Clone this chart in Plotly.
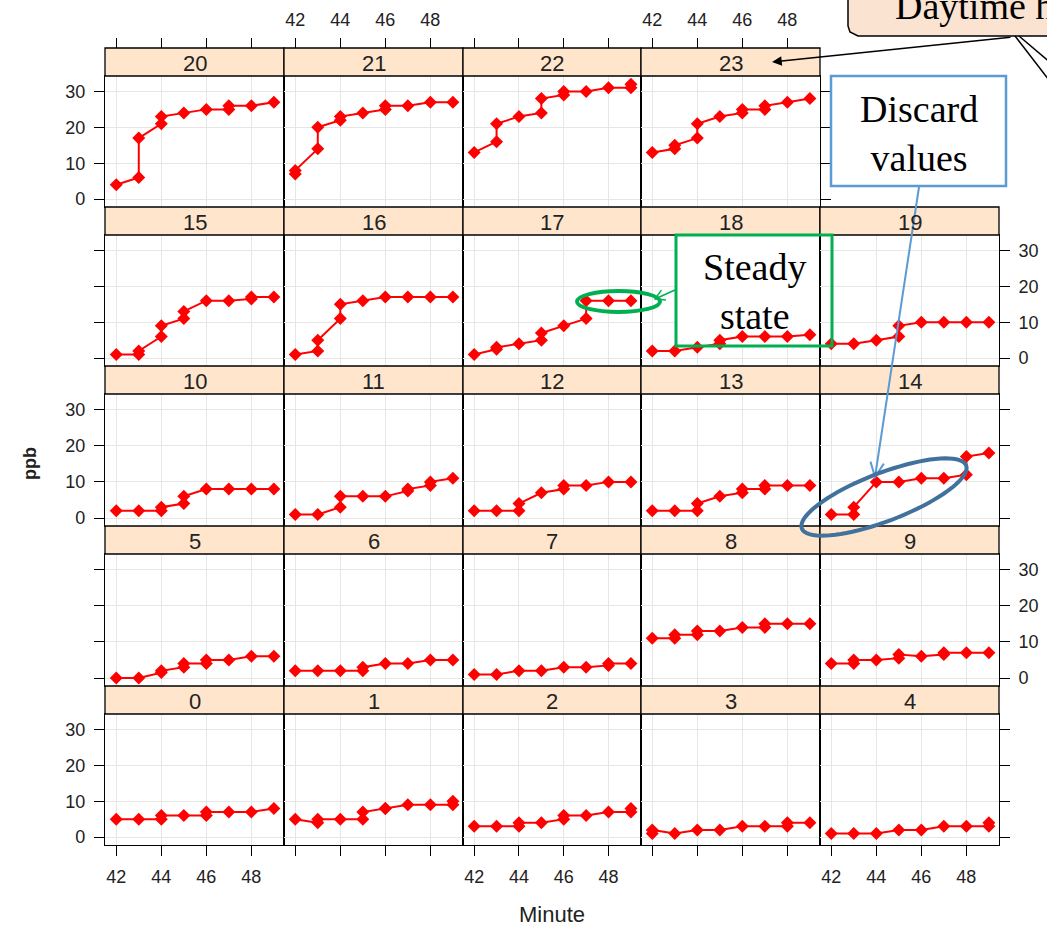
import numpy as np
import plotly.graph_objects as go

# ---------------------------------------------------------------------------
# Readings per hour of the day: minute of the hour and concentration (ppb).
# Repeated minutes are successive readings taken within the same minute.
# ---------------------------------------------------------------------------
h00_minute = [42, 43, 44, 44, 45, 46, 46, 47, 48, 49]
h00_ppb = [5, 5, 5, 6, 6, 6, 7, 7, 7, 8]
h01_minute = [42, 43, 43, 44, 45, 45, 46, 46, 47, 48, 49, 49]
h01_ppb = [5, 4, 5, 5, 5, 7, 8, 8, 9, 9, 9, 10]
h02_minute = [42, 43, 44, 44, 45, 46, 46, 47, 48, 49, 49]
h02_ppb = [3, 3, 3, 4, 4, 5, 6, 6, 7, 7, 8]
h03_minute = [42, 42, 43, 44, 45, 46, 47, 48, 48, 49]
h03_ppb = [1, 2, 1, 2, 2, 3, 3, 3, 4, 4]
h04_minute = [42, 43, 44, 45, 46, 47, 48, 49, 49]
h04_ppb = [1, 1, 1, 2, 2, 3, 3, 3, 4]
h05_minute = [42, 43, 44, 44, 45, 45, 46, 46, 47, 48, 49]
h05_ppb = [0, 0, 1.5, 2, 3, 4, 4, 5, 5, 6, 6]
h06_minute = [42, 43, 44, 45, 45, 46, 47, 48, 49]
h06_ppb = [2, 2, 2, 2, 3, 4, 4, 5, 5]
h07_minute = [42, 43, 44, 45, 46, 47, 48, 48, 49]
h07_ppb = [1, 1, 2, 2, 3, 3, 3.5, 4, 4]
h08_minute = [42, 43, 43, 44, 44, 45, 46, 47, 47, 48, 49]
h08_ppb = [11, 11, 12, 12, 13, 13, 14, 14, 15, 15, 15]
h09_minute = [42, 43, 43, 44, 45, 45, 46, 47, 47, 48, 49]
h09_ppb = [4, 4, 5, 5, 5.5, 6.5, 6, 6.5, 7, 7, 7]
h10_minute = [42, 43, 44, 44, 45, 45, 46, 47, 48, 49]
h10_ppb = [2, 2, 2, 3, 4, 6, 8, 8, 8, 8]
h11_minute = [42, 43, 44, 44, 45, 46, 47, 47, 48, 48, 49]
h11_ppb = [1, 1, 3, 6, 6, 6, 7.5, 8, 9, 10, 11]
h12_minute = [42, 43, 44, 44, 45, 46, 46, 47, 48, 49]
h12_ppb = [2, 2, 2, 4, 7, 8, 9, 9, 10, 10]
h13_minute = [42, 43, 44, 44, 45, 46, 46, 47, 47, 48, 49]
h13_ppb = [2, 2, 2, 4, 6, 7, 8, 8, 9, 9, 9]
h14_minute = [42, 43, 43, 44, 45, 46, 47, 48, 48, 49]
h14_ppb = [1, 1, 3, 10, 10, 11, 11, 12, 17, 18]
h15_minute = [42, 43, 43, 44, 44, 45, 45, 46, 47, 48, 48, 49]
h15_ppb = [1, 1, 2, 6, 9, 11, 13, 16, 16, 16.5, 17, 17]
h16_minute = [42, 43, 43, 44, 44, 45, 46, 47, 48, 49]
h16_ppb = [1, 2, 5, 11, 15, 16, 17, 17, 17, 17]
h17_minute = [42, 43, 43, 44, 45, 45, 46, 47, 47, 48, 49]
h17_ppb = [1, 2.5, 3, 4, 5, 7, 9, 11, 16, 16, 16]
h18_minute = [42, 43, 44, 45, 45, 46, 47, 48, 49]
h18_ppb = [2, 2, 3, 4, 5, 6, 6, 6, 6.5]
h19_minute = [42, 43, 44, 45, 45, 46, 47, 48, 49]
h19_ppb = [4, 4, 5, 6, 9, 10, 10, 10, 10]
h20_minute = [42, 43, 43, 44, 44, 45, 46, 47, 47, 48, 49]
h20_ppb = [4, 6, 17, 21, 23, 24, 25, 25, 26, 26, 27]
h21_minute = [42, 42, 43, 43, 44, 44, 45, 46, 46, 47, 48, 49]
h21_ppb = [7, 8, 14, 20, 22, 23, 24, 25, 26, 26, 27, 27]
h22_minute = [42, 43, 43, 44, 45, 45, 46, 46, 47, 48, 49, 49]
h22_ppb = [13, 16, 21, 23, 24, 28, 29, 30, 30, 31, 31, 32]
h23_minute = [42, 43, 43, 44, 44, 45, 46, 46, 47, 47, 48, 49]
h23_ppb = [13, 14, 15, 17, 21, 23, 24, 25, 25, 26, 27, 28]

hour_series = {
    0: (h00_minute, h00_ppb), 1: (h01_minute, h01_ppb), 2: (h02_minute, h02_ppb),
    3: (h03_minute, h03_ppb), 4: (h04_minute, h04_ppb), 5: (h05_minute, h05_ppb),
    6: (h06_minute, h06_ppb), 7: (h07_minute, h07_ppb), 8: (h08_minute, h08_ppb),
    9: (h09_minute, h09_ppb), 10: (h10_minute, h10_ppb), 11: (h11_minute, h11_ppb),
    12: (h12_minute, h12_ppb), 13: (h13_minute, h13_ppb), 14: (h14_minute, h14_ppb),
    15: (h15_minute, h15_ppb), 16: (h16_minute, h16_ppb), 17: (h17_minute, h17_ppb),
    18: (h18_minute, h18_ppb), 19: (h19_minute, h19_ppb), 20: (h20_minute, h20_ppb),
    21: (h21_minute, h21_ppb), 22: (h22_minute, h22_ppb), 23: (h23_minute, h23_ppb),
}

x_ticks = [42, 44, 46, 48]
y_ticks = [0, 10, 20, 30]

# ---------------------------------------------------------------------------
# Page geometry (pixels) for the trellis grid
# ---------------------------------------------------------------------------
W, H = 1047, 929
COL_EDGES = [105, 284, 463, 641, 820, 999]
ROW_TOPS = [48, 207, 366, 526, 686, 845]   # strip tops, last = bottom of grid
STRIP_H = 28
X_RANGE = [41.5, 49.45]
Y_RANGE = [-2.2, 34.3]

SANS = "Liberation Sans, Arial, sans-serif"
SERIF = "Liberation Serif, Times New Roman, serif"
TEXT = "#222222"
STRIP_FILL = "#FFE5CC"
GRID = "#E6E6E6"
TICK_SIZE = 18


def px(x):
    return x / W


def py(y):
    return 1 - y / H


def axid(letter, i):
    return letter if i == 1 else f"{letter}{i}"


def axkey(letter, i):
    return f"{letter}axis" if i == 1 else f"{letter}axis{i}"


def panel_box(hour):
    rb, c = divmod(hour, 5)
    r = 4 - rb
    return (COL_EDGES[c], COL_EDGES[c + 1], ROW_TOPS[r] + STRIP_H, ROW_TOPS[r + 1])


def base_axis(vals, rng):
    return dict(range=rng, tickvals=vals, ticktext=[str(v) for v in vals],
                showgrid=True, gridcolor=GRID, gridwidth=1, zeroline=False,
                showline=True, mirror=True, linecolor="black", linewidth=1.3,
                ticks="", ticklen=10, tickwidth=1.2, tickcolor="black",
                showticklabels=False, ticklabelstandoff=5,
                tickfont=dict(family=SANS, size=TICK_SIZE, color=TEXT),
                fixedrange=True, automargin=False)


def tick_axis(vals, rng, labels):
    return dict(range=rng, tickvals=vals, ticktext=[str(v) for v in vals],
                showgrid=False, zeroline=False, showline=False,
                ticks="outside", ticklen=10, tickwidth=1.2, tickcolor="black",
                showticklabels=labels, ticklabelstandoff=5,
                tickfont=dict(family=SANS, size=TICK_SIZE, color=TEXT),
                fixedrange=True, automargin=False)


def label(text, x, y, size, family=SANS, color=TEXT, **kw):
    d = dict(text=text, xref="paper", yref="paper", x=px(x), y=py(y),
             xanchor="center", yanchor="middle", showarrow=False,
             font=dict(family=family, size=size, color=color))
    d.update(kw)
    return d


fig = go.Figure()
layout = {}
shapes = []
annotations = []

for hour in range(24):
    i = hour + 1
    rb, c = divmod(hour, 5)          # row from bottom, column
    left, right, panel_top, panel_bot = panel_box(hour)
    strip_top = panel_top - STRIP_H

    xa = base_axis(x_ticks, X_RANGE)
    xa.update(domain=[px(left), px(right)], anchor=axid("y", i))
    ya = base_axis(y_ticks, Y_RANGE)
    ya.update(domain=[py(panel_bot), py(panel_top)], anchor=axid("x", i))

    if rb == 0:                      # bottom row: minute ticks
        xa.update(ticks="outside", showticklabels=(c % 2 == 0))
    if c == 0:                       # left column: ppb ticks
        ya.update(ticks="outside", side="left", showticklabels=(rb % 2 == 0))
    layout[axkey("x", i)] = xa
    layout[axkey("y", i)] = ya

    minutes, ppb = hour_series[hour]
    fig.add_trace(go.Scatter(
        x=minutes, y=ppb, mode="lines+markers",
        line=dict(color="#FF0000", width=2),
        marker=dict(symbol="diamond", size=10, color="#FF0000"),
        xaxis=axid("x", i), yaxis=axid("y", i),
        showlegend=False, hoverinfo="skip"))

    # top row: minute ticks drawn above the strips
    if rb == 4:
        j = 30 + hour
        ta = tick_axis(x_ticks, X_RANGE, labels=(c % 2 == 1))
        ta.update(overlaying=axid("x", i), side="top", anchor="free",
                  position=py(strip_top))
        layout[axkey("x", j)] = ta
        fig.add_trace(go.Scatter(x=[None], y=[None], xaxis=axid("x", j),
                                 yaxis=axid("y", i), showlegend=False,
                                 hoverinfo="skip"))

    # last panel of each row: ppb ticks on the right
    if c == 4 or hour == 23:
        j = 60 + hour
        ra = tick_axis(y_ticks, Y_RANGE, labels=(rb % 2 == 1))
        ra.update(overlaying=axid("y", i), side="right", anchor=axid("x", i))
        layout[axkey("y", j)] = ra
        fig.add_trace(go.Scatter(x=[None], y=[None], xaxis=axid("x", i),
                                 yaxis=axid("y", j), showlegend=False,
                                 hoverinfo="skip"))

    # strip with the hour label
    shapes.append(dict(type="rect", xref="paper", yref="paper",
                       x0=px(left), x1=px(right), y0=py(panel_top), y1=py(strip_top),
                       fillcolor=STRIP_FILL, line=dict(color="black", width=1.3),
                       layer="above"))
    annotations.append(label(str(hour), (left + right) / 2,
                             strip_top + STRIP_H / 2 + 1, 22))

# axis titles
annotations.append(label("<b>ppb</b>", 30, 464, 18, textangle=-90))
annotations.append(label("Minute", 552, 914, 22))


# ---------------------------------------------------------------------------
# Call-out boxes, ellipses and arrows (pixel geometry -> paper coordinates)
# ---------------------------------------------------------------------------
def path_from(points, close=False):
    s = "M " + " L ".join(f"{px(x):.5f},{py(y):.5f}" for x, y in points)
    return s + (" Z" if close else "")


def line_shape(p0, p1, color, width):
    return dict(type="line", xref="paper", yref="paper",
                x0=px(p0[0]), y0=py(p0[1]), x1=px(p1[0]), y1=py(p1[1]),
                line=dict(color=color, width=width), layer="above")


def open_head(tail, tip, length, spread_deg):
    d = np.array(tip, float) - np.array(tail, float)
    d /= np.linalg.norm(d)
    pts = []
    for sgn in (-1, 1):
        a = np.radians(spread_deg) * sgn
        rot = np.array([[np.cos(a), -np.sin(a)], [np.sin(a), np.cos(a)]])
        back = rot @ (-d) * length
        pts.append((tip[0] + back[0], tip[1] + back[1]))
    return [pts[0], tip, pts[1]]


def ellipse_points(cx, cy, a, b, deg, n=80):
    t = np.linspace(0, 2 * np.pi, n)
    th = np.radians(deg)
    xs = cx + a * np.cos(t) * np.cos(th) - b * np.sin(t) * np.sin(th)
    ys = cy - (a * np.cos(t) * np.sin(th) + b * np.sin(t) * np.cos(th))
    return list(zip(xs, ys))


def to_panel(hour, x, y):
    """Pixel position -> data position inside one panel."""
    left, right, top, bot = panel_box(hour)
    xv = X_RANGE[0] + (x - left) / (right - left) * (X_RANGE[1] - X_RANGE[0])
    yv = Y_RANGE[1] - (y - top) / (bot - top) * (Y_RANGE[1] - Y_RANGE[0])
    return xv, yv


# "Daytime hours" rounded call-out running off the page
shapes.append(dict(type="path", xref="paper", yref="paper",
                   path=path_from([(848, -40), (848, 26), (850, 32), (858, 36),
                                   (1090, 36), (1090, -40)], close=True),
                   fillcolor="#FBE3D2", line=dict(color="black", width=1.5),
                   layer="above"))
annotations.append(label("Daytime hours", 893, 6, 38, family=SERIF, color="black",
                         xanchor="left"))
shapes.append(line_shape((1015, 36), (1052, 84), "black", 1.5))
shapes.append(line_shape((1019, 36), (1052, 64), "black", 1.5))
annotations.append(dict(text="", xref="paper", yref="paper", x=px(772), y=py(62),
                        ax=1012 - 772, ay=37 - 62, showarrow=True,
                        arrowhead=2, arrowsize=1.3, arrowwidth=1.5, arrowcolor="black"))

# "Steady state" box: white backing over the hour-18 grid, under its trace
GREEN = "#00B050"
bx0, by0 = to_panel(18, 676, 346)
bx1, by1 = to_panel(18, 820, 235)
shapes.append(dict(type="rect", xref="x19", yref="y19",
                   x0=bx0, x1=bx1, y0=by0, y1=by1,
                   fillcolor="white", line=dict(width=0), layer="between"))
shapes.append(dict(type="rect", xref="paper", yref="paper",
                   x0=px(676), x1=px(832), y0=py(346), y1=py(235),
                   fillcolor="rgba(0,0,0,0)", line=dict(color=GREEN, width=3),
                   layer="above"))
annotations.append(label("Steady<br>state", 754, 292, 38, family=SERIF, color="black"))
shapes.append(dict(type="circle", xref="paper", yref="paper",
                   x0=px(577), x1=px(660), y0=py(312), y1=py(291),
                   line=dict(color=GREEN, width=4), layer="above"))
shapes.append(line_shape((675, 290), (655, 299), GREEN, 1.5))
shapes.append(dict(type="path", xref="paper", yref="paper",
                   path=path_from(open_head((675, 290), (655, 299), 11, 30)),
                   line=dict(color=GREEN, width=1.5), layer="above"))

# "Discard values" box, pointer and ellipse
BLUE = "#5B9BD5"
shapes.append(dict(type="rect", xref="paper", yref="paper",
                   x0=px(831), x1=px(1006), y0=py(186), y1=py(76),
                   fillcolor="white", line=dict(color=BLUE, width=2.5), layer="above"))
annotations.append(label("Discard<br>values", 918.5, 133, 38, family=SERIF, color="black"))
shapes.append(line_shape((919, 187), (875, 477), BLUE, 2))
shapes.append(dict(type="path", xref="paper", yref="paper",
                   path=path_from(open_head((919, 187), (875, 477), 16, 25)),
                   line=dict(color=BLUE, width=2), layer="above"))
shapes.append(dict(type="path", xref="paper", yref="paper",
                   path=path_from(ellipse_points(884, 497, 88, 24, 21), close=True),
                   line=dict(color="#41719C", width=4), layer="above"))

layout.update(
    width=W, height=H, template="none",
    margin=dict(l=0, r=0, t=0, b=0, pad=0, autoexpand=False),
    paper_bgcolor="white", plot_bgcolor="rgba(0,0,0,0)",
    showlegend=False, shapes=shapes, annotations=annotations,
    font=dict(family=SANS, color=TEXT),
)
fig.update_layout(**layout)
fig.write_html("out.html")
